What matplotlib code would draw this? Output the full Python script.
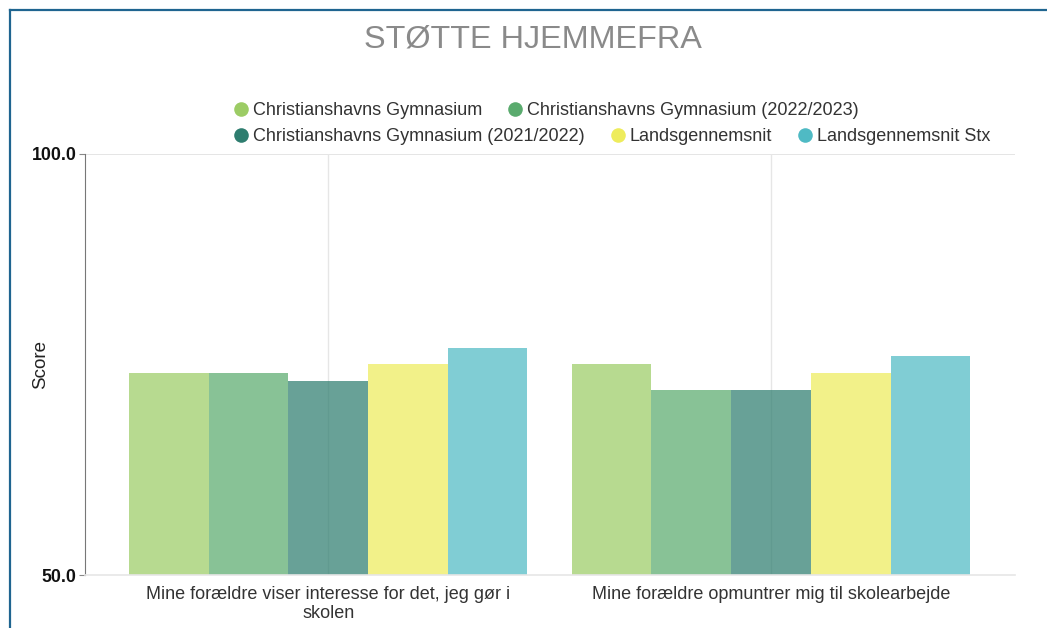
import matplotlib
matplotlib.use("Agg")
import matplotlib.pyplot as plt
from matplotlib.lines import Line2D
import numpy as np

plt.rcParams['font.family'] = ['Liberation Sans', 'DejaVu Sans']

title = "STØTTE HJEMMEFRA"
categories = ["Mine forældre viser interesse for det, jeg gør i\nskolen",
              "Mine forældre opmuntrer mig til skolearbejde"]
series_names = ["Christianshavns Gymnasium",
                "Christianshavns Gymnasium (2022/2023)",
                "Christianshavns Gymnasium (2021/2022)",
                "Landsgennemsnit",
                "Landsgennemsnit Stx"]
values = [
    [74.0, 75.0],
    [74.0, 72.0],
    [73.0, 72.0],
    [75.0, 74.0],
    [77.0, 76.0],
]
colors = ["#9ccc65", "#5aab6e", "#2e7d6f", "#eeec5c", "#4fbac4"]
ytick_vals = [50.0, 100.0]
ylabel = "Score"

fig = plt.figure(figsize=(10.47, 6.28), dpi=100)
ax = fig.add_axes([85/1047, 1-575/628, (1015-85)/1047, (575-154)/628])

n = len(series_names)
bw = 0.18
x = np.arange(len(categories))
for i, (name, vals, c) in enumerate(zip(series_names, values, colors)):
    offs = (i - (n-1)/2) * bw
    ax.bar(x + offs, vals, width=bw, color=c, alpha=0.72, zorder=2, linewidth=0)

ax.set_ylim(50, 100)
ax.set_xlim(-0.549, 1.551)
ax.set_yticks(ytick_vals)
ax.set_yticklabels([f"{v:.1f}" for v in ytick_vals], fontweight='bold', fontsize=12.8, color='#111111')
ax.set_xticks(x)
ax.set_xticklabels(categories, fontsize=13, color='#333333', linespacing=1.15)
ax.tick_params(axis='x', length=0, pad=8)
ax.tick_params(axis='y', length=4, color='#888888', pad=2)
ax.grid(axis='x', color='#e6e6e6', linewidth=1, zorder=1)
ax.axhline(100, color='#e0e0e0', linewidth=1.2, zorder=1)
for s in ['top', 'right']:
    ax.spines[s].set_visible(False)
ax.spines['left'].set_color('#777777')
ax.spines['bottom'].set_color('#e6e6e6')
ax.spines['bottom'].set_linewidth(1.2)
ax.set_ylabel(ylabel, fontsize=13.5, color='#222222')
ax.yaxis.set_label_coords(-36/930, 0.5)

fig.text(533/1047, 1-40/628, title, ha='center', va='center', fontsize=23.3, color='#8a8a8a')

def make_handles(idx):
    return [Line2D([0], [0], marker='o', linestyle='none', markersize=10.5,
                   markerfacecolor=colors[i], markeredgewidth=0) for i in idx]

rows = [[0, 1], [2, 3, 4]]
ys = [110.5, 136.5]
for r, yy in zip(rows, ys):
    leg = fig.legend(make_handles(r), [series_names[i] for i in r],
                     loc='center left', bbox_to_anchor=(234/1047, 1-yy/628),
                     ncol=len(r), frameon=False, fontsize=13, handlelength=0.75,
                     handletextpad=0.3, columnspacing=1.45, borderpad=0, borderaxespad=0)
    for t in leg.get_texts():
        t.set_color('#333333')

fig.add_artist(Line2D([10/1047, 10/1047], [0, 1-10/628], transform=fig.transFigure,
                      color='#1f6590', linewidth=1.6))
fig.add_artist(Line2D([10/1047, 1.0], [1-10/628, 1-10/628], transform=fig.transFigure,
                      color='#1f6590', linewidth=1.6))

fig.savefig("out.png", dpi=100)
